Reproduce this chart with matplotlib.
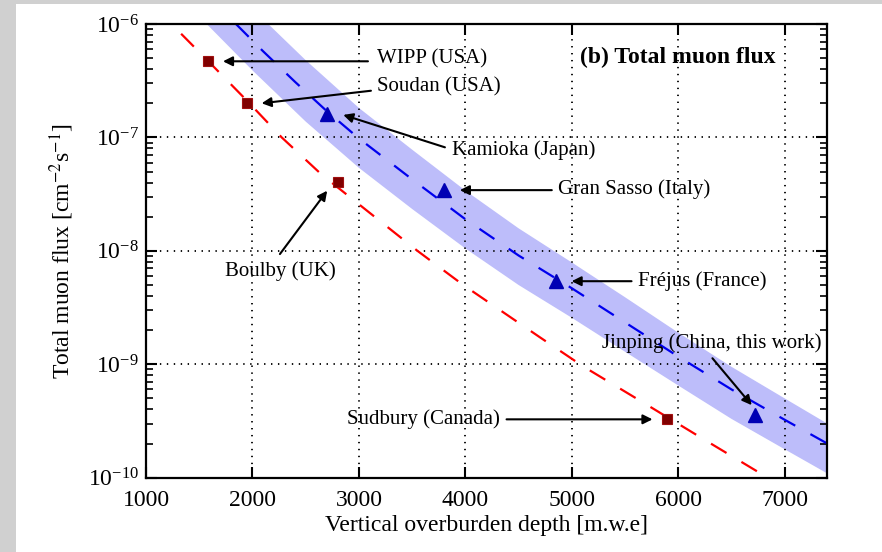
import matplotlib
matplotlib.use('Agg')
import matplotlib.pyplot as plt
from matplotlib.patches import Rectangle
from matplotlib.ticker import NullLocator, FixedLocator

# ---------------- data ----------------
red_sites = ['WIPP (USA)', 'Soudan (USA)', 'Boulby (UK)', 'Sudbury (Canada)']
red_depth = [1585, 1950, 2800, 5890]
red_flux = [4.7e-7, 2.0e-7, 4.07e-8, 3.29e-10]

blue_sites = ['Kamioka (Japan)', 'Gran Sasso (Italy)', 'Fréjus (France)',
              'Jinping (China, this work)']
blue_depth = [2700, 3800, 4850, 6720]
blue_flux = [1.6e-7, 3.45e-8, 5.45e-9, 3.56e-10]

red_curve_depth = [1330, 1585, 1950, 2275, 2650, 3550, 3980, 4700, 5105, 5670, 6250, 6840]
red_curve_flux = [8.2e-7, 4.7e-7, 2.1e-7, 1.0e-7, 4.7e-8, 1.0e-8, 5.0e-9, 1.73e-9,
                  9.6e-10, 4.6e-10, 2.15e-10, 1.0e-10]

blue_curve_depth = [1845, 2100, 2400, 2700, 3000, 3500, 4000, 4500, 5000, 5500, 6000,
                    6500, 7000, 7400]
blue_curve_flux = [1.0e-6, 5.75e-7, 3.09e-7, 1.70e-7, 9.8e-8, 4.27e-8, 1.9e-8, 9.1e-9,
                   4.68e-9, 2.34e-9, 1.17e-9, 6.0e-10, 3.24e-10, 2.0e-10]

band_upper_depth = [2148, 2500, 3000, 3500, 4000, 4500, 5000, 5500, 6000, 6500, 7000, 7400]
band_upper_flux = [1.0e-6, 4.8e-7, 1.82e-7, 7.8e-8, 3.4e-8, 1.58e-8, 7.9e-9, 3.9e-9,
                   1.9e-9, 9.5e-10, 5.0e-10, 3.0e-10]
band_lower_depth = [1570, 2000, 2500, 3000, 3500, 4000, 4500, 5000, 5500, 6000, 6500,
                    7000, 7400]
band_lower_flux = [1.0e-6, 3.9e-7, 1.38e-7, 5.4e-8, 2.34e-8, 1.05e-8, 5.0e-9, 2.57e-9,
                   1.29e-9, 6.5e-10, 3.3e-10, 1.78e-10, 1.09e-10]

x_ticks = [1000, 2000, 3000, 4000, 5000, 6000, 7000]

# annotation layout: label -> (text pos, arrow start, arrow end) in data coords
annotations = [
    ('WIPP (USA)', (3169, 4.9e-7), (3085, 4.69e-7), (1723, 4.69e-7)),
    ('Soudan (USA)', (3169, 2.8e-7), (3113, 2.58e-7), (2086, 2.0e-7)),
    ('Kamioka (Japan)', (3870, 7.74e-8), (3808, 8.18e-8), (2853, 1.58e-7)),
    ('Gran Sasso (Italy)', (4869, 3.5e-8), (4812, 3.43e-8), (3948, 3.43e-8)),
    ('Fréjus (France)', (5623, 5.44e-9), (5561, 5.4e-9), (4998, 5.4e-9)),
    ('Jinping (China, this work)', (5279, 1.53e-9), (6321, 1.13e-9), (6690, 4.36e-10)),
    ('Sudbury (Canada)', (2885, 3.27e-10), (4387, 3.27e-10), (5758, 3.27e-10)),
    ('Boulby (UK)', (1742, 6.68e-9), (2258, 9.37e-9), (2702, 3.39e-8)),
]

# ---------------- style ----------------
plt.rcParams['font.family'] = ['Liberation Serif', 'DejaVu Serif']
plt.rcParams['mathtext.fontset'] = 'stix'
plt.rcParams['lines.scale_dashes'] = False

W, H = 882, 552
fig = plt.figure(figsize=(W / 100, H / 100), dpi=100, facecolor='#d0d0d0')
fig.patches.append(Rectangle((16 / W, 0), 1 - 16 / W, 1 - 4 / H, transform=fig.transFigure,
                             facecolor='white', edgecolor='none', zorder=-10))

ax = fig.add_axes([146 / W, 1 - 477.7 / H, (827.3 - 146) / W, (477.7 - 24) / H])
ax.set_facecolor('none')
ax.set_yscale('log')
ax.set_xlim(1000, 7400)
ax.set_ylim(1e-10, 1e-6)

# band
poly_x = band_upper_depth + band_lower_depth[::-1]
poly_y = band_upper_flux + band_lower_flux[::-1]
ax.fill(poly_x, poly_y, facecolor='#bdbdfa', edgecolor='none', zorder=1)

# model curves
ax.plot(red_curve_depth, red_curve_flux, color='#ff0000', lw=1.6, dashes=(13, 12.5), zorder=2)
ax.plot(blue_curve_depth, blue_curve_flux, color='#0000ee', lw=1.6, dashes=(13, 12.5), zorder=2)

# data points
ax.plot(red_depth, red_flux, 's', color='#800000', mec='#a01010', mew=0.8, ms=7.5, zorder=3)
ax.plot(blue_depth, blue_flux, '^', color='#0000b4', mec='#0000b4', ms=10, zorder=3)

# annotations
for label, tpos, a0, a1 in annotations:
    ax.text(tpos[0], tpos[1], label, fontsize=15, ha='left', va='center', zorder=4)
    ax.annotate('', xy=a1, xytext=a0,
                arrowprops=dict(arrowstyle='-|>', color='k', lw=1.5, mutation_scale=14,
                                shrinkA=0, shrinkB=0), zorder=4)

ax.text(5081, 5.12e-7, '(b) Total muon flux', fontsize=17, fontweight='bold',
        ha='left', va='center', zorder=4)

# axes / ticks
ax.xaxis.set_major_locator(FixedLocator(x_ticks))
ax.xaxis.set_minor_locator(NullLocator())
ax.tick_params(which='both', direction='in', top=True, right=True, labelsize=17)
ax.tick_params(which='major', length=8, width=1.5)
ax.tick_params(which='minor', length=5, width=1.2)
ax.tick_params(axis='x', which='major', pad=9)
ax.tick_params(axis='y', which='major', pad=5)
for s in ax.spines.values():
    s.set_linewidth(1.6)

ax.grid(True, which='major', color='k', linestyle=(0, (1, 4)), linewidth=1.3)

ax.set_xlabel('Vertical overburden depth [m.w.e]', fontsize=17, labelpad=3)
ax.set_ylabel('Total muon flux [cm$^{-2}$s$^{-1}$]', fontsize=17, labelpad=9)

fig.savefig('out.png', dpi=100, facecolor=fig.get_facecolor())
